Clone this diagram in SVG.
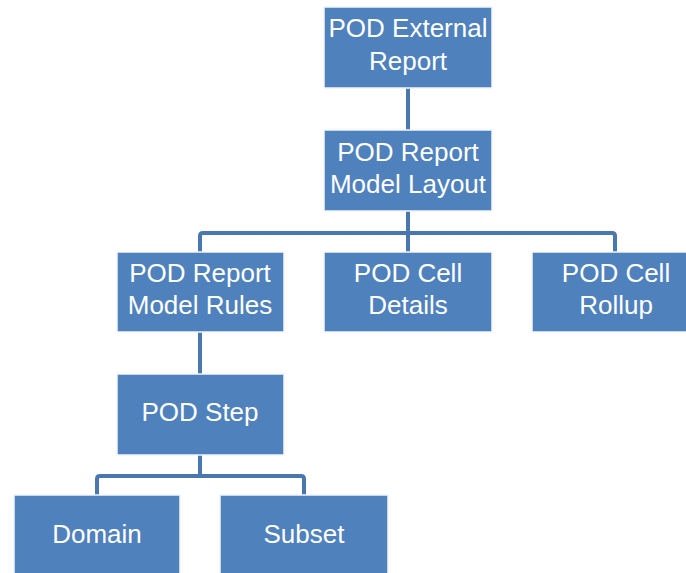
<svg xmlns="http://www.w3.org/2000/svg" width="686" height="573" viewBox="0 0 686 573">
  <style>
    .box { fill: #4F81BD; stroke: #F2F5FA; stroke-width: 1.5; }
    .lbl { fill: #FFFFFF; font-family: "Liberation Sans", Arial, sans-serif; font-size: 26px; text-anchor: middle; }
    .wire { fill: none; stroke: #4A78AE; stroke-width: 4; stroke-linejoin: round; }
  </style>
  <rect width="686" height="573" fill="#FFFFFF"/>

  <!-- connectors -->
  <g id="connectors">
    <path class="wire" d="M408 88 V130"/>
    <path class="wire" d="M408 211 V233"/>
    <path class="wire" d="M200 252 V236 Q200 233 203 233 H612 Q615 233 615 236 V252"/>
    <path class="wire" d="M408 233 V252"/>
    <path class="wire" d="M200 332 V374"/>
    <path class="wire" d="M200 455 V476"/>
    <path class="wire" d="M97 495 V479 Q97 476 100 476 H301 Q304 476 304 479 V495"/>
  </g>

  <g id="external-report">
    <rect class="box" x="324" y="7" width="168" height="81"/>
    <text class="lbl" x="408" y="37">POD External</text>
    <text class="lbl" x="408" y="70">Report</text>
  </g>

  <g id="report-model-layout">
    <rect class="box" x="324" y="130" width="168" height="81"/>
    <text class="lbl" x="408" y="161">POD Report</text>
    <text class="lbl" x="408" y="193">Model Layout</text>
  </g>

  <g id="report-model-rules">
    <rect class="box" x="117" y="252" width="167" height="80"/>
    <text class="lbl" x="200" y="282">POD Report</text>
    <text class="lbl" x="200" y="314">Model Rules</text>
  </g>

  <g id="cell-details">
    <rect class="box" x="324" y="252" width="168" height="80"/>
    <text class="lbl" x="408" y="282">POD Cell</text>
    <text class="lbl" x="408" y="314">Details</text>
  </g>

  <g id="cell-rollup">
    <rect class="box" x="532" y="252" width="168" height="80"/>
    <text class="lbl" x="616" y="282">POD Cell</text>
    <text class="lbl" x="616" y="314">Rollup</text>
  </g>

  <g id="step">
    <rect class="box" x="117" y="374" width="167" height="81"/>
    <text class="lbl" x="200" y="421">POD Step</text>
  </g>

  <g id="domain">
    <rect class="box" x="14" y="495" width="166" height="81"/>
    <text class="lbl" x="97" y="543">Domain</text>
  </g>

  <g id="subset">
    <rect class="box" x="220" y="495" width="168" height="81"/>
    <text class="lbl" x="304" y="543">Subset</text>
  </g>
</svg>
